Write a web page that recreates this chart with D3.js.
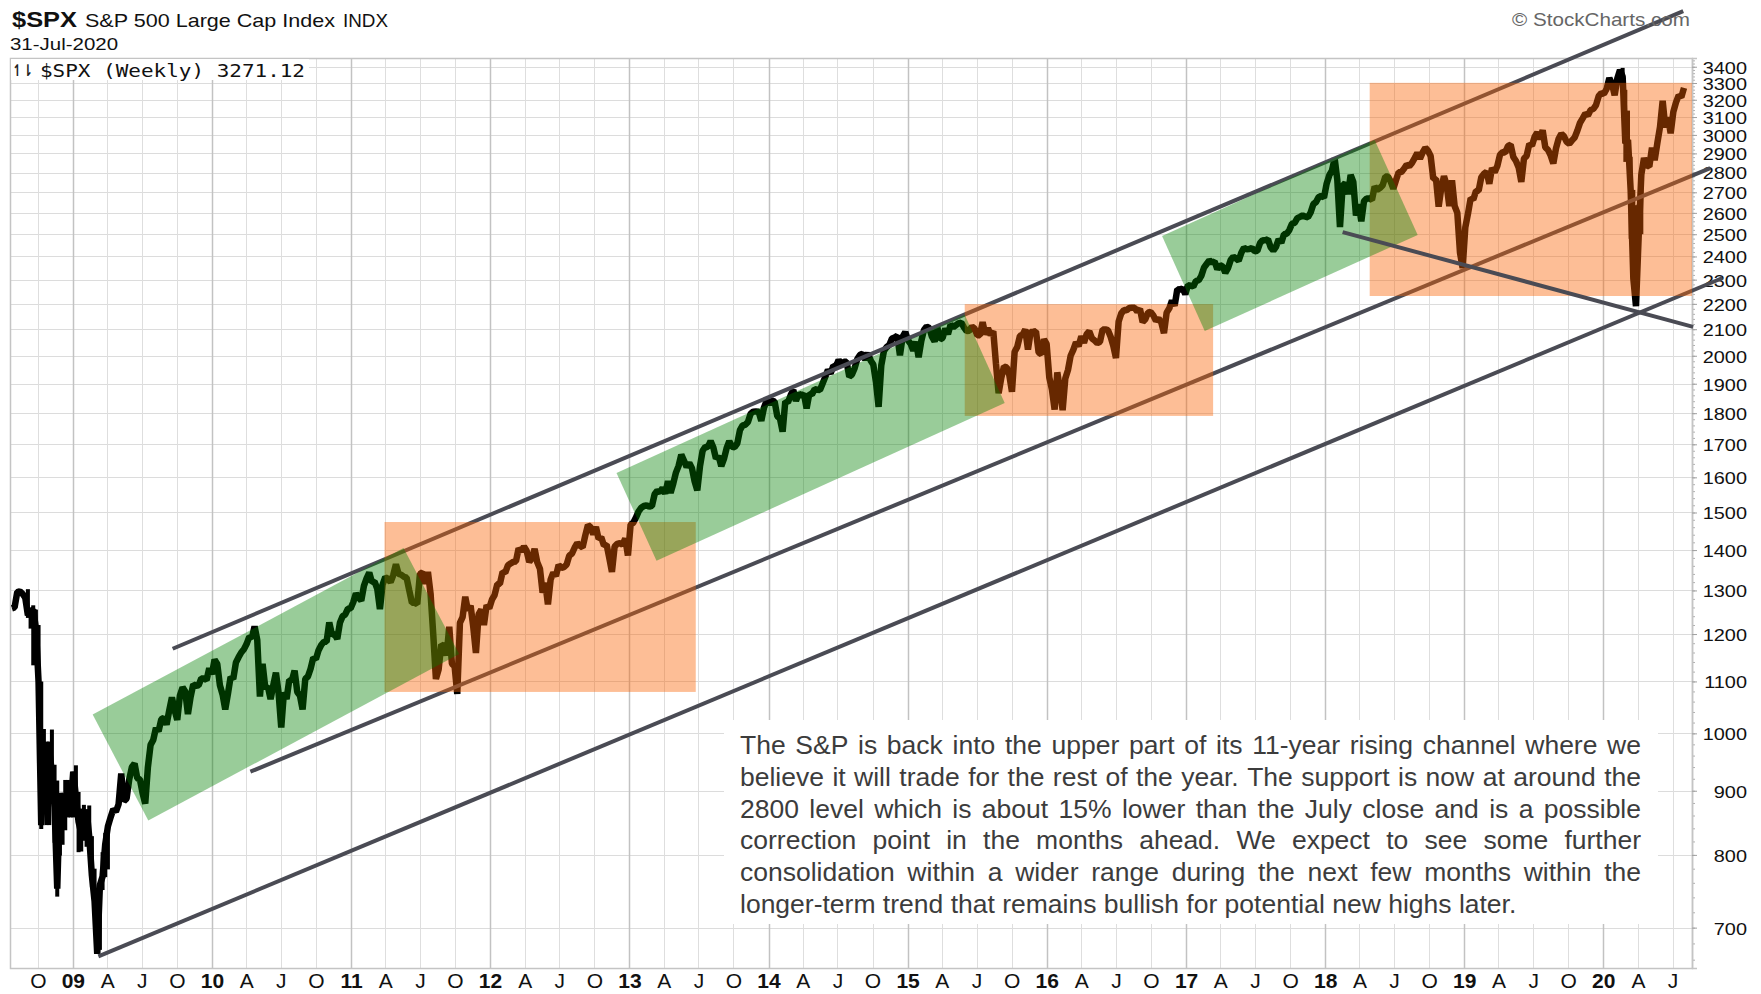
<!DOCTYPE html>
<html>
<head>
<meta charset="utf-8">
<script src="https://cdn.jsdelivr.net/npm/d3@7"></script>
<style>
  body { margin: 0; background: #fff; }
  svg { display: block; font-family: "Liberation Sans", Arial, sans-serif; }
</style>
</head>
<body>
<svg id="chart" width="1761" height="994"></svg>
<script>
// ---- weekly closes (Friday of each week) ----
const spx2008 = [1258,1260,1296,1298,1292,1283,1242,1252,1255,1213,1099,845,941,877,969,931,873,752,896,876,880,888,873];
const spx2009 = [932,890,850,832,826,869,827,770,735,667,757,769,816,843,857,870,866,878,929,883,887,919,940,946,921,919,896,879,940,979,988,1010,1004,1026,1029,1016,1043,1068,1044,1025,1072,1088,1080,1036,1069,1094,1091,1092,1106,1106,1103,1127];
const spx2010 = [1115,1145,1136,1092,1074,1045,1075,1109,1105,1139,1150,1160,1167,1178,1194,1192,1217,1187,1070,1136,1088,1089,1065,1092,1118,1077,1011,1078,1065,1103,1102,1122,1079,1072,1045,1105,1110,1126,1149,1146,1165,1176,1183,1183,1226,1199,1200,1189,1225,1240,1244,1257,1258];
const spx2011 = [1272,1293,1283,1276,1311,1329,1343,1320,1321,1304,1256,1314,1332,1328,1320,1337,1364,1340,1338,1333,1331,1300,1271,1271,1268,1340,1344,1316,1345,1292,1199,1105,1124,1177,1174,1154,1216,1136,1131,1075,1225,1238,1285,1253,1264,1216,1159,1244,1255,1220,1265,1258];
const spx2012 = [1278,1289,1315,1316,1345,1343,1361,1366,1370,1371,1404,1397,1409,1398,1370,1379,1403,1369,1353,1295,1318,1267,1326,1343,1335,1362,1355,1357,1363,1386,1391,1406,1418,1411,1407,1438,1466,1460,1441,1461,1429,1433,1412,1414,1380,1345,1409,1416,1418,1414,1430,1386];
const spx2013 = [1467,1472,1486,1503,1513,1518,1520,1516,1518,1551,1561,1557,1569,1553,1589,1555,1582,1614,1634,1668,1650,1631,1643,1627,1588,1562,1632,1680,1692,1692,1710,1691,1656,1664,1633,1655,1688,1710,1692,1691,1703,1745,1760,1762,1771,1798,1805,1806,1805,1775,1818,1841];
const spx2014 = [1831,1842,1839,1790,1783,1740,1839,1836,1860,1878,1841,1866,1858,1865,1816,1865,1863,1881,1879,1878,1901,1924,1949,1936,1963,1961,1985,1968,1978,1978,1925,1932,1955,1988,2003,2008,1986,2010,1983,1968,1906,1821,1965,2018,2032,2040,2064,2068,2075,2002,2071,2089];
const spx2015 = [2058,2045,2019,2052,1995,2055,2097,2110,2105,2071,2053,2108,2061,2067,2102,2081,2118,2108,2116,2123,2126,2107,2093,2094,2110,2102,2077,2077,2127,2080,2104,2078,2092,1971,1867,1921,1961,1958,1931,1872,2015,2033,2075,2079,2099,2023,2089,2090,2092,2012,2006,2061];
const spx2016 = [2044,1922,1880,1812,1940,1880,1810,1918,1948,2000,2022,2050,2036,2073,2048,2081,2092,2065,2057,2047,2052,2099,2099,2096,2071,2037,1992,2130,2162,2175,2174,2183,2184,2184,2169,2180,2128,2139,2165,2168,2154,2133,2141,2126,2085,2165,2182,2213,2192,2260,2258,2264,2239];
const spx2017 = [2277,2275,2271,2295,2297,2316,2351,2367,2383,2373,2378,2344,2363,2356,2329,2349,2384,2399,2391,2382,2416,2439,2432,2433,2438,2423,2425,2459,2473,2472,2477,2441,2426,2443,2477,2461,2500,2502,2519,2549,2553,2575,2581,2588,2582,2579,2602,2642,2652,2676,2683,2674];
const spx2018 = [2743,2786,2810,2873,2762,2533,2732,2747,2691,2787,2752,2588,2641,2560,2656,2670,2670,2663,2728,2713,2721,2735,2779,2779,2755,2718,2760,2801,2802,2819,2840,2833,2850,2875,2902,2872,2905,2930,2914,2886,2767,2768,2630,2723,2781,2736,2633,2760,2633,2600,2417,2350];
const spx2019 = [2532,2596,2671,2665,2707,2708,2776,2793,2804,2743,2823,2801,2834,2893,2907,2905,2940,2946,2881,2860,2826,2752,2873,2887,2951,2942,2990,3014,2977,3026,2932,2919,2889,2847,2927,2979,3007,2992,2962,2952,2970,2986,3023,3067,3093,3120,3110,3141,3146,3169,3221,3240];
const spx2020 = [3235,3265,3330,3295,3226,3328,3380,3338,2954,2972,2711,2305,2191,2489,2790,2875,2837,2831,2930,2864,2955,3044,3194,3041,3098,3009,3130,3185,3225,3216,3271];

const seriesStart = "2008-07-25";
const seriesYears = [2008,2009,2010,2011,2012,2013,2014,2015,2016,2017,2018,2019,2020];
const seriesByYear = [spx2008,spx2009,spx2010,spx2011,spx2012,spx2013,spx2014,spx2015,spx2016,spx2017,spx2018,spx2019,spx2020];

// weekly high/low bars where the swings are widest (2008-09 crash, 2020 crash)
const crash2008Start = "2008-09-05";
const crash2008High = [1303,1255,1265,1255,1220,1100,1008,985,985,1007,944,917,896,896,918,918,887,932,943,898,871,877,870,876,828,780,741,758,804,833,845];
const crash2008Low  = [1236,1212,1133,1183,1097,839,866,845,845,899,818,741,799,815,837,857,857,857,883,804,805,821,812,813,754,735,667,672,750,768,779];
const crash2020Start = "2020-02-21";
const crash2020High = [3393,3259,3137,2882,2712,2637,2641,2819];
const crash2020Low  = [3328,2855,2902,2479,2280,2192,2447,2500];

// price axis labels
const priceTicks = [700,800,900,1000,1100,1200,1300,1400,1500,1600,1700,1800,1900,2000,2100,2200,2300,2400,2500,2600,2700,2800,2900,3000,3100,3200,3300,3400];
const quarterLetters = ["", "A", "J", "O"];

// drawn annotations: [date, price]
const channelLines = [
  [["2009-09-20", 1168], ["2020-07-29", 3765]],
  [["2010-04-12", 932], ["2020-10-08", 2823]],
  [["2009-03-09", 664], ["2020-11-09", 2307]]
];
const breakLine = [["2018-02-16", 2510], ["2020-08-24", 2109]];
const rangeBoxes = [
  [["2011-03-30", 1474], ["2013-06-24", 1079]],
  [["2015-05-31", 2199], ["2017-03-13", 1791]],
  [["2018-04-28", 3301], ["2020-08-21", 2232]]
];
const trendBoxes = [
  [["2009-02-22", 1035], ["2011-05-19", 1405], ["2011-10-12", 1157], ["2009-07-18", 852]],
  [["2012-11-28", 1613], ["2015-05-31", 2156], ["2015-09-13", 1834], ["2013-03-13", 1373]],
  [["2016-10-30", 2492], ["2018-05-11", 2972], ["2018-09-01", 2497], ["2017-02-19", 2093]]
];
const noteLines = [
  "The S&P is back into the upper part of its 11-year rising channel where we",
  "believe it will trade for the rest of the year. The support is now at around the",
  "2800 level which is about 15% lower than the July close and is a possible",
  "correction point in the months ahead. We expect to see some further",
  "consolidation within a wider range during the next few months within the",
  "longer-term trend that remains bullish for potential new highs later."
];

// ---- build series ----
const parse = d3.utcParse("%Y-%m-%d");
const series = [];
seriesYears.forEach((yr, k) => {
  const first = yr === 2008 ? parse(seriesStart) : d3.utcFriday.ceil(new Date(Date.UTC(yr, 0, 1)));
  seriesByYear[k].forEach((v, i) => series.push({ date: d3.utcFriday.offset(first, i), close: v }));
});
const ranges = [];
[[crash2008Start, crash2008High, crash2008Low], [crash2020Start, crash2020High, crash2020Low]].forEach(([s, hi, lo]) => {
  hi.forEach((h, i) => ranges.push({ date: d3.utcFriday.offset(parse(s), i), high: h, low: lo[i] }));
});

const svg = d3.select("#chart");
const plot = { left: 10, right: 1692, top: 58, bottom: 968 };

const x = d3.scaleUtc()
  .domain([parse("2008-07-20"), parse("2020-08-21")])
  .range([plot.left, plot.right]);
const y = d3.scaleLog()
  .domain([650, 3455])
  .range([plot.bottom, plot.top]);
const pt = d => [x(parse(d[0])), y(d[1])];

svg.append("rect").attr("width", 1761).attr("height", 994).attr("fill", "#fff");

// grid
const quarters = d3.utcMonth.every(3).range(x.domain()[0], x.domain()[1]);
svg.append("g").selectAll("line").data(priceTicks).join("line")
  .attr("x1", plot.left).attr("x2", plot.right)
  .attr("y1", d => Math.round(y(d)) + 0.5).attr("y2", d => Math.round(y(d)) + 0.5)
  .attr("stroke", "#dcdcdc");
svg.append("g").selectAll("line").data(quarters).join("line")
  .attr("x1", d => Math.round(x(d)) + 0.5).attr("x2", d => Math.round(x(d)) + 0.5)
  .attr("y1", plot.top).attr("y2", plot.bottom)
  .attr("stroke", d => d.getUTCMonth() === 0 ? "#c2c2c2" : "#dedede")
  .attr("stroke-width", d => d.getUTCMonth() === 0 ? 1.5 : 1);

svg.append("rect")
  .attr("x", plot.left + 0.5).attr("y", plot.top + 0.5)
  .attr("width", plot.right - plot.left).attr("height", plot.bottom - plot.top)
  .attr("fill", "none").attr("stroke", "#c4c4c4").attr("stroke-width", 1.5);

// x axis
const xAxis = d3.axisBottom(x).tickValues(quarters).tickSize(0).tickPadding(5)
  .tickFormat(d => d.getUTCMonth() === 0 ? d3.utcFormat("%y")(d) : quarterLetters[d.getUTCMonth() / 3]);
const gx = svg.append("g").attr("transform", `translate(0,${plot.bottom})`).call(xAxis);
gx.select(".domain").remove();
gx.selectAll("text")
  .attr("font-family", "'Liberation Sans', Arial, sans-serif")
  .attr("font-size", 21)
  .attr("fill", "#111")
  .attr("font-weight", d => d.getUTCMonth() === 0 ? "bold" : "normal");

// y axis (right)
const minorTicks = d3.range(660, 3450, 20);
const gyMinor = svg.append("g").attr("transform", `translate(${plot.right},0)`)
  .call(d3.axisRight(y).tickValues(minorTicks).tickSize(3).tickFormat(""));
gyMinor.select(".domain").remove();
gyMinor.selectAll("line").attr("stroke", "#b0b0b0");
const gy = svg.append("g").attr("transform", `translate(${plot.right},0)`)
  .call(d3.axisRight(y).tickValues(priceTicks).tickSize(5).tickFormat(d3.format("d")));
gy.select(".domain").attr("stroke", "#c4c4c4").attr("stroke-width", 1.5);
gy.selectAll("line").attr("stroke", "#a0a0a0");
gy.selectAll("text")
  .attr("font-family", "'Liberation Sans', Arial, sans-serif")
  .attr("font-size", 17)
  .attr("fill", "#111")
  .attr("text-anchor", "end")
  .attr("x", 47)
  .attr("dy", "0.38em")
  .attr("transform", "scale(1.17,1)");

// price
svg.append("g").selectAll("line").data(ranges).join("line")
  .attr("x1", d => x(d.date)).attr("x2", d => x(d.date))
  .attr("y1", d => y(d.high)).attr("y2", d => y(d.low))
  .attr("stroke", "#000").attr("stroke-width", 4);
const line = d3.line().x(d => x(d.date)).y(d => y(d.close));
svg.append("path").datum(series)
  .attr("d", line)
  .attr("fill", "none")
  .attr("stroke", "#000")
  .attr("stroke-width", 6.5)
  .attr("stroke-linejoin", "bevel");

// channel lines
const trendColor = "#4a4b54";
svg.append("g").selectAll("line").data(channelLines).join("line")
  .attr("x1", d => pt(d[0])[0]).attr("y1", d => pt(d[0])[1])
  .attr("x2", d => pt(d[1])[0]).attr("y2", d => pt(d[1])[1])
  .attr("stroke", trendColor).attr("stroke-width", 4);

// range boxes (orange) and trend boxes (green), translucent over everything
svg.append("g").selectAll("rect").data(rangeBoxes).join("rect")
  .attr("x", d => pt(d[0])[0]).attr("y", d => pt(d[0])[1])
  .attr("width", d => pt(d[1])[0] - pt(d[0])[0])
  .attr("height", d => pt(d[1])[1] - pt(d[0])[1])
  .attr("fill", "rgb(249,98,0)").attr("fill-opacity", 0.41);
svg.append("g").selectAll("polygon").data(trendBoxes).join("polygon")
  .attr("points", d => d.map(c => pt(c).join(",")).join(" "))
  .attr("fill", "rgb(0,128,0)").attr("fill-opacity", 0.4);

svg.append("line")
  .attr("x1", pt(breakLine[0])[0]).attr("y1", pt(breakLine[0])[1])
  .attr("x2", pt(breakLine[1])[0]).attr("y2", pt(breakLine[1])[1])
  .attr("stroke", trendColor).attr("stroke-width", 4);

// legend
svg.append("rect").attr("x", 11).attr("y", 59).attr("width", 298).attr("height", 21).attr("fill", "#fff");
svg.append("text").attr("x", 12).attr("y", 76)
  .attr("font-family", "'DejaVu Sans', sans-serif").attr("font-size", 16).attr("font-weight", "bold").attr("fill", "#222")
  .attr("textLength", 21).attr("lengthAdjust", "spacingAndGlyphs")
  .text("↿⇂");
svg.append("text").attr("x", 40).attr("y", 77)
  .attr("font-family", "'DejaVu Sans Mono', monospace").attr("font-size", 17).attr("fill", "#111")
  .attr("textLength", 265).attr("lengthAdjust", "spacingAndGlyphs")
  .text("$SPX (Weekly) 3271.12");

// header
const header = svg.append("g").attr("fill", "#111");
header.append("text").attr("x", 12).attr("y", 27).attr("font-size", 22).attr("font-weight", "bold")
  .attr("textLength", 65).attr("lengthAdjust", "spacingAndGlyphs").text("$SPX");
header.append("text").attr("x", 85).attr("y", 27).attr("font-size", 19)
  .attr("textLength", 250).attr("lengthAdjust", "spacingAndGlyphs").text("S&P 500 Large Cap Index");
header.append("text").attr("x", 343).attr("y", 27).attr("font-size", 18)
  .attr("textLength", 45).attr("lengthAdjust", "spacingAndGlyphs").text("INDX");
header.append("text").attr("x", 10).attr("y", 50).attr("font-size", 17)
  .attr("textLength", 108).attr("lengthAdjust", "spacingAndGlyphs").text("31-Jul-2020");
svg.append("text").attr("x", 1512).attr("y", 26).attr("font-size", 19).attr("fill", "#666")
  .attr("textLength", 178).attr("lengthAdjust", "spacingAndGlyphs").text("\u00a9 StockCharts.com");

// commentary, justified line by line
const note = { left: 740, right: 1641, base: 754, step: 31.8 };
svg.append("rect").attr("x", 724).attr("y", 720).attr("width", 934).attr("height", 204).attr("fill", "#fff");
const noteG = svg.append("g").attr("font-size", 26.5).attr("fill", "#3c3c3c");
noteLines.forEach((ln, i) => {
  const words = ln.split(" ");
  const t = noteG.append("text").attr("y", note.base + i * note.step);
  const spans = words.map(w => t.append("tspan").text(w));
  const widths = spans.map(s => s.node().getComputedTextLength());
  const total = d3.sum(widths);
  const probe = noteG.append("text").text("a a");
  const probeA = noteG.append("text").text("aa");
  const natural = probe.node().getComputedTextLength() - probeA.node().getComputedTextLength();
  probe.remove(); probeA.remove();
  const space = (i === noteLines.length - 1)
    ? natural
    : Math.max(natural * 0.6, (note.right - note.left - total) / (words.length - 1));
  let cx = note.left;
  spans.forEach((s, j) => { s.attr("x", cx); cx += widths[j] + space; });
});
</script>
</body>
</html>
